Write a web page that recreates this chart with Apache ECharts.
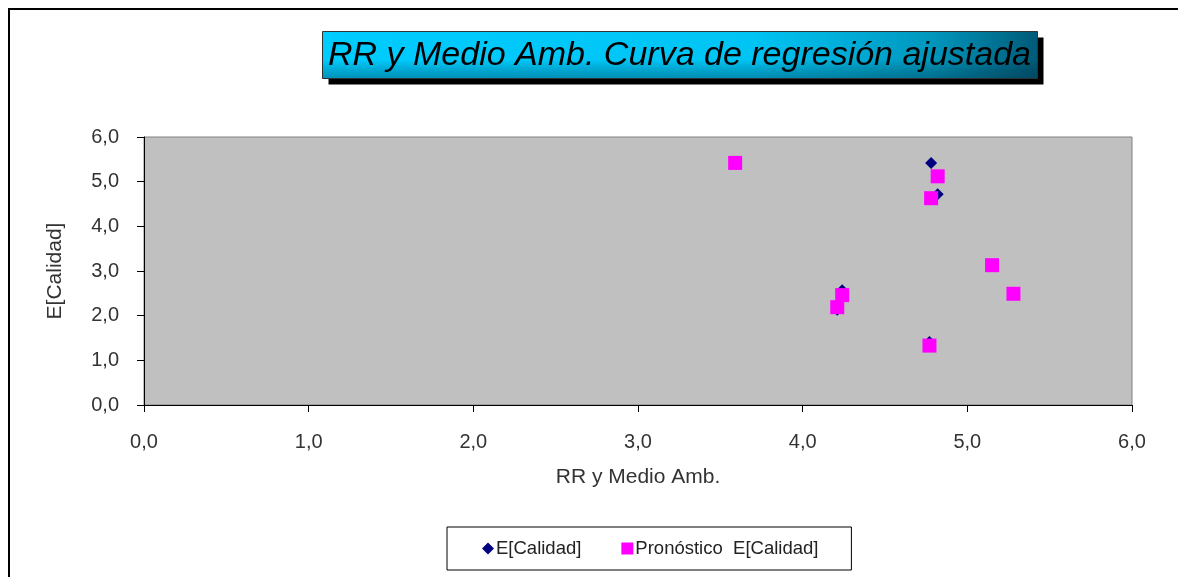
<!DOCTYPE html>
<html>
<head>
<meta charset="utf-8">
<style>
  html, body { margin: 0; padding: 0; background: #fff; }
  #chart { width: 1178px; height: 577px; }
</style>
<script src="https://cdn.jsdelivr.net/npm/echarts@6/dist/echarts.min.js"></script>
</head>
<body>
<div id="chart"></div>
<script>
// valores
var rrMedioAmb = [3.59, 4.82, 4.78, 5.15, 5.28, 4.24, 4.21, 4.77];
var calidad = [5.42, 4.72, 5.42, 3.13, 2.49, 2.57, 2.13, 1.41];
var pronostico = [5.42, 5.12, 4.63, 3.13, 2.49, 2.46, 2.19, 1.33];
var seriesNames = ["E[Calidad]", "Pronóstico  E[Calidad]"];
var titleText = "RR y Medio Amb. Curva de regresión ajustada";

function pairs(xs, ys) {
  return xs.map(function (x, i) {
    return [x, ys[i]];
  });
}

function coma(v) {
  return v.toFixed(1).replace(".", ",");
}

var chart = echarts.init(document.getElementById("chart"));

var option = {
  animation: false,
  textStyle: { fontFamily: "Liberation Sans, Arial, sans-serif" },
  graphic: [
    {
      // marco exterior
      type: "rect",
      shape: { x: 9, y: 9, width: 1200, height: 600 },
      style: { fill: "none", stroke: "#000", lineWidth: 2 },
      z: 0
    },
    {
      type: "group",
      left: 322,
      top: 31,
      children: [
        {
          type: "rect",
          shape: { x: 6, y: 6, width: 715, height: 47 },
          style: { fill: "#000" }
        },
        {
          type: "rect",
          shape: { x: 0, y: 0, width: 715, height: 47 },
          style: {
            fill: new echarts.graphic.LinearGradient(0, 0, 1, 0, [
              { offset: 0, color: "#00ccff" },
              { offset: 0.6, color: "#00c4f4" },
              { offset: 0.85, color: "#0097bd" },
              { offset: 1, color: "#005a78" }
            ]),
            stroke: "#333",
            lineWidth: 1
          }
        },
        {
          type: "rect",
          shape: { x: 0, y: 0, width: 715, height: 47 },
          style: {
            fill: new echarts.graphic.LinearGradient(0, 0, 0, 1, [
              { offset: 0, color: "rgba(0,0,0,0)" },
              { offset: 0.6, color: "rgba(0,0,0,0)" },
              { offset: 1, color: "rgba(0,40,60,0.35)" }
            ])
          }
        },
        {
          type: "text",
          x: 357,
          y: 24,
          style: {
            text: titleText,
            fill: "#000",
            font: "italic 34px 'Liberation Sans', Arial, sans-serif",
            align: "center",
            verticalAlign: "middle"
          }
        }
      ]
    }
  ],
  grid: {
    left: 144,
    right: 46,
    top: 137,
    bottom: 172,
    show: true,
    backgroundColor: "#c0c0c0",
    borderColor: "#808080",
    borderWidth: 1
  },
  legend: {
    left: 447,
    top: 527,
    padding: [12, 33, 12, 35],
    itemGap: 40,
    itemWidth: 12,
    itemHeight: 12,
    borderColor: "#000",
    borderWidth: 1,
    backgroundColor: "#fff",
    textStyle: { fontSize: 18.5, color: "#222", padding: [0, 0, 0, -3] },
    data: [
      { name: seriesNames[0], icon: "diamond" },
      { name: seriesNames[1], icon: "rect" }
    ]
  },
  xAxis: {
    type: "value",
    min: 0,
    max: 6,
    interval: 1,
    name: "RR y Medio Amb.",
    nameLocation: "middle",
    nameGap: 62,
    nameTextStyle: { fontSize: 21, color: "#333" },
    axisLine: { onZero: false, lineStyle: { color: "#000", width: 1 } },
    axisTick: { show: true, length: 7, lineStyle: { color: "#000" } },
    axisLabel: { margin: 27, fontSize: 20, color: "#333", formatter: coma },
    splitLine: { show: false }
  },
  yAxis: {
    type: "value",
    min: 0,
    max: 6,
    interval: 1,
    name: "E[Calidad]",
    nameLocation: "middle",
    nameGap: 78,
    nameTextStyle: { fontSize: 21, color: "#333" },
    axisLine: { show: true, onZero: false, lineStyle: { color: "#000", width: 1 } },
    axisTick: { show: true, length: 7, lineStyle: { color: "#000" } },
    axisLabel: { margin: 25, fontSize: 20, color: "#333", formatter: coma },
    splitLine: { show: false }
  },
  series: [
    {
      name: seriesNames[0],
      type: "scatter",
      symbol: "diamond",
      symbolSize: 12,
      itemStyle: { color: "#000080", opacity: 1 },
      data: pairs(rrMedioAmb, calidad),
      z: 2
    },
    {
      name: seriesNames[1],
      type: "scatter",
      symbol: "rect",
      symbolSize: 14,
      itemStyle: { color: "#ff00ff", opacity: 1 },
      data: pairs(rrMedioAmb, pronostico),
      z: 3
    }
  ]
};

chart.setOption(option);
</script>
</body>
</html>
